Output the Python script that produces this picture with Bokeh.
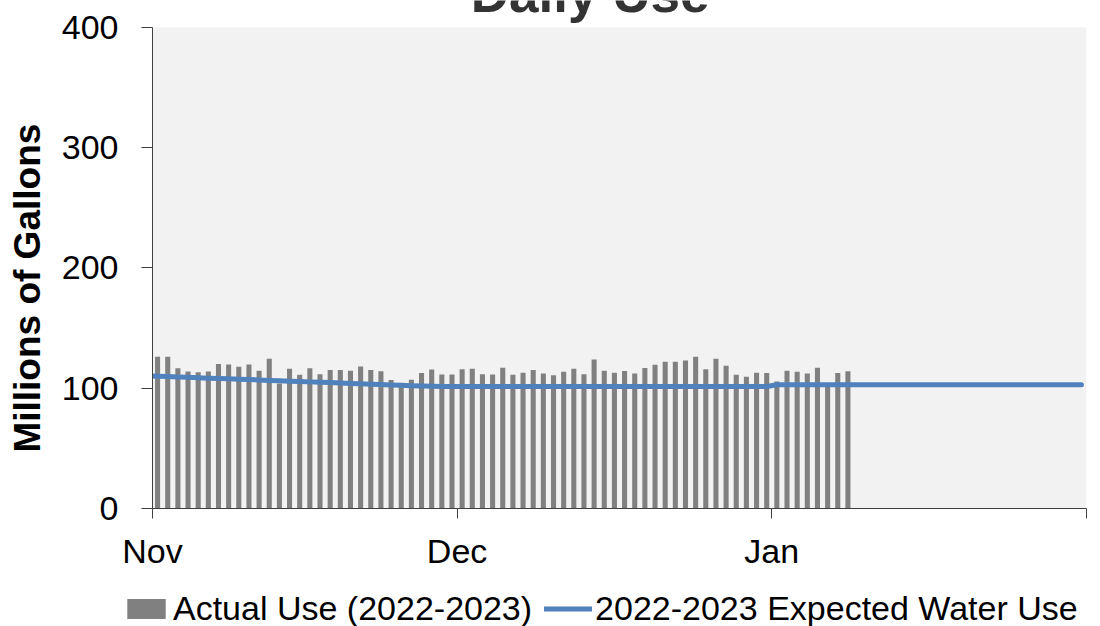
import math
from bokeh.plotting import figure
from bokeh.layouts import column, row
from bokeh.models import (Range1d, FixedTicker, Label, Legend, LegendItem,
                          ColumnDataSource, BoxAnnotation)
from bokeh.embed import file_html
from bokeh.resources import INLINE

# ---- data ----
month_ticks = [0, 30, 61, 92]          # days since Nov 1
month_labels = ["Nov", "Dec", "Jan", ""]
y_ticks = [0, 100, 200, 300, 400]

# Actual daily use, Nov 1 2022 .. Jan 8 2023 (millions of gallons)
actual_use = [
    126.2, 126.2, 116.7, 114.0, 113.4, 114.0, 120.1, 119.7, 117.9, 119.7,
    114.5, 124.6, 104.0, 116.2, 111.2, 116.7, 111.7, 115.1, 115.1, 114.5,
    118.1, 115.1, 114.2, 106.8, 104.0, 107.0, 112.6, 115.6, 111.5, 111.5,
    115.9, 116.2, 111.7, 111.5, 117.0, 111.2, 112.9, 115.1, 112.3, 110.9,
    113.7, 116.2, 111.7, 124.0, 114.5, 112.9, 114.3, 112.3, 116.8, 119.5,
    122.1, 122.1, 123.1, 126.2, 115.9, 124.6, 118.7, 111.2, 109.5, 112.9,
    112.6, 105.6, 114.5, 113.7, 112.3, 117.0, 104.0, 112.6, 114.2,
]

# Expected daily use, Oct 31 2022 .. Jan 31 2023
expected_use = [
    110.3,
    110.0, 109.7, 109.4, 109.1, 108.7, 108.4, 108.1, 107.8, 107.5, 107.2,
    106.9, 106.5, 106.2, 105.9, 105.6, 105.3, 105.0, 104.7, 104.3, 104.0,
    103.7, 103.4, 103.1, 102.8, 102.5, 102.1, 101.8, 101.6, 101.5, 101.5,
    101.5, 101.5, 101.5, 101.5, 101.5, 101.5, 101.5, 101.5, 101.5, 101.5,
    101.5, 101.5, 101.5, 101.5, 101.5, 101.5, 101.5, 101.5, 101.5, 101.5,
    101.5, 101.5, 101.5, 101.5, 101.5, 101.5, 101.5, 101.5, 101.5, 101.5,
    101.5,
    102.9, 102.9, 102.9, 102.9, 102.9, 102.9, 102.9, 102.9, 102.9, 102.9,
    102.9, 102.9, 102.9, 102.9, 102.9, 102.9, 102.9, 102.9, 102.9, 102.9,
    102.9, 102.9, 102.9, 102.9, 102.9, 102.9, 102.9, 102.9, 102.9, 102.9,
    102.9,
]

actual_src = ColumnDataSource(dict(x=[i + 0.5 for i in range(len(actual_use))], y=actual_use))
expected_src = ColumnDataSource(dict(x=[i - 0.5 for i in range(len(expected_use))], y=expected_use))

FONT = "Liberation Sans"
BAR_COLOR = "#808080"
LINE_COLOR = "#4f81bd"
Y_MAX = 400
Y_TOP = 422.45   # frame reaches the top edge so the (clipped) title can sit there

LEFT_W, TOP_H, LEG_H = 50, 574, 52

# ---------------- main chart ----------------
p = figure(width=1100 - LEFT_W, height=TOP_H, output_backend="svg", toolbar_location=None,
           x_range=Range1d(0, 92), y_range=Range1d(0, Y_TOP),
           min_border_left=152 - LEFT_W, min_border_right=14, min_border_top=0,
           min_border_bottom=TOP_H - 508)
p.background_fill_color = "white"
p.border_fill_color = "white"
p.outline_line_color = None
p.xgrid.grid_line_color = None
p.ygrid.grid_line_color = None

p.add_layout(BoxAnnotation(left=0, right=92, bottom=0, top=Y_MAX, fill_color="#f2f2f2",
                           fill_alpha=1, line_color=None, level="underlay"))

bars = p.vbar(x="x", top="y", bottom=0, width=0.5, source=actual_src,
              fill_color=BAR_COLOR, line_color=None)
line = p.line(x="x", y="y", source=expected_src, line_color=LINE_COLOR,
              line_width=5, line_cap="round", line_join="round")

for ax in (p.xaxis, p.yaxis):
    ax.axis_line_color = "#404040"
    ax.major_tick_line_color = "#404040"
    ax.minor_tick_line_color = None
    ax.major_tick_in = 0
    ax.major_label_text_font = FONT
    ax.major_label_text_font_size = "34px"
    ax.major_label_text_color = "black"

p.xaxis.ticker = FixedTicker(ticks=month_ticks)
p.xaxis.major_label_overrides = dict(zip(month_ticks, month_labels))
p.xaxis.major_tick_out = 10
p.xaxis.major_label_standoff = 13

p.yaxis.ticker = FixedTicker(ticks=y_ticks)
p.yaxis.bounds = (0, Y_MAX)
p.yaxis.major_tick_out = 11
p.yaxis.major_label_standoff = 23

# chart title (clipped at the top, as in the reference)
p.add_layout(Label(x=43.1, y=428.3, text="Daily Use",
                   text_align="center", text_baseline="alphabetic",
                   text_font=FONT, text_font_size="53px", text_font_style="bold",
                   text_color="#333333"))

# ---------------- y-axis title strip ----------------
ylab = figure(width=LEFT_W, height=TOP_H, output_backend="svg", toolbar_location=None,
              x_range=Range1d(0, LEFT_W), y_range=Range1d(0, TOP_H),
              x_axis_type=None, y_axis_type=None, min_border=0)
ylab.outline_line_color = None
ylab.xgrid.grid_line_color = None
ylab.ygrid.grid_line_color = None
ylab.add_layout(Label(x=27, y=249, text="Millions of Gallons", angle=math.pi / 2,
                      text_align="center", text_baseline="middle",
                      text_font=FONT, text_font_size="37px", text_font_style="bold",
                      text_color="black"))

# ---------------- legend strip ----------------
# legend keys reuse the chart's sources; this strip's ranges keep the marks themselves out of view
leg = figure(width=1100, height=LEG_H, output_backend="svg", toolbar_location=None,
             x_range=Range1d(-5000, -3900), y_range=Range1d(-5000, -5000 + LEG_H),
             x_axis_type=None, y_axis_type=None, min_border=0)
leg.outline_line_color = None
leg.xgrid.grid_line_color = None
leg.ygrid.grid_line_color = None
bar_key = leg.vbar(x="x", top="y", bottom=0, width=0.5, source=actual_src,
                   fill_color=BAR_COLOR, line_color=None)
line_key = leg.line(x="x", y="y", source=expected_src, line_color=LINE_COLOR,
                    line_width=5, line_cap="round")
legend = Legend(items=[LegendItem(label="Actual Use (2022-2023)", renderers=[bar_key]),
                       LegendItem(label="2022-2023 Expected Water Use", renderers=[line_key])],
                orientation="horizontal", location=(122, -2),
                glyph_width=48, glyph_height=25, label_standoff=3, spacing=12,
                padding=0, margin=0, border_line_color=None, background_fill_alpha=0,
                label_text_font=FONT, label_text_font_size="34px", label_text_color="black")
leg.add_layout(legend)

layout = column(row(ylab, p, spacing=0), leg, spacing=0)
open("out.html", "w").write(file_html(layout, INLINE))
